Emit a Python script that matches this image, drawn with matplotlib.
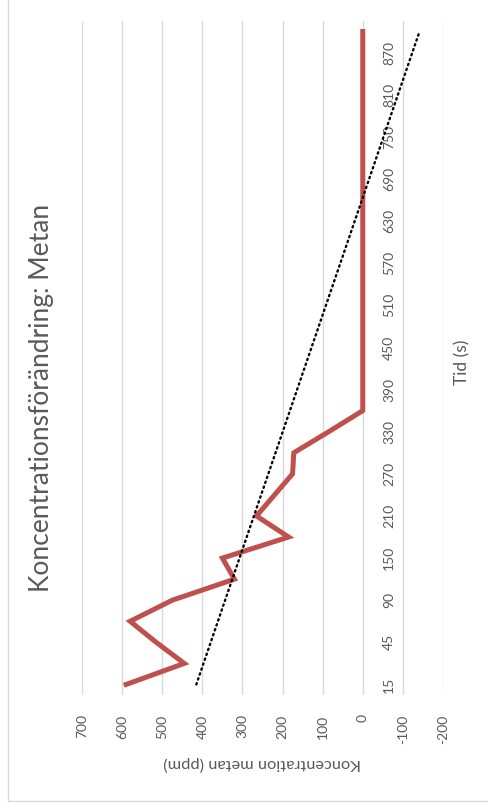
import numpy as np
import matplotlib
matplotlib.use("Agg")
import matplotlib.pyplot as plt
from matplotlib.patches import Rectangle

# Tid (s) - every other category gets a label
tid = [15, 30, 45, 60, 90, 120, 150, 180, 210, 240, 270, 300, 330, 360, 390, 420,
       450, 480, 510, 540, 570, 600, 630, 660, 690, 720, 750, 780, 810, 840, 870, 900]
tid_labels = [15, 45, 90, 150, 210, 270, 330, 390, 450, 510, 570, 630, 690, 750, 810, 870]
metan = [590, 445, 515, 580, 475, 320, 350, 185, 265, 220, 175, 172, 85, 0, 0, 0,
         0, 0, 0, 0, 0, 0, 0, 0, 0, 0, 0, 0, 0, 0, 0, 0]
value_ticks = [700, 600, 500, 400, 300, 200, 100, 0, -100, -200]

plt.rcParams['font.family'] = ['Lato', 'DejaVu Sans']
grey = '#595959'

W, H = 489, 805
fig = plt.figure(figsize=(W / 100, H / 100), dpi=100)

# chart is drawn turned a quarter turn: values run right-to-left, time bottom-to-top
ax = fig.add_axes([82 / W, 1 - 695 / H, (443 - 82) / W, 674 / H])
idx = np.arange(len(tid))

ax.plot(metan, idx, color='#C0504D', lw=3.6, solid_joinstyle='miter', zorder=3)

# linear trend over category index, like Excel
k, m = np.polyfit(idx, metan, 1)
ax.plot(k * idx + m, idx, color='black', lw=1.7, linestyle=(0, (0.6, 1.6)),
        dash_capstyle='round', zorder=4)

ax.set_xlim(700, -200)
ax.set_ylim(-0.5, len(tid) - 0.5)
ax.set_xticks(value_ticks)
ax.set_xticklabels([str(v) for v in value_ticks], rotation=90, color=grey, fontsize=10)
lab_idx = [tid.index(t) for t in tid_labels]
ax.set_yticks(lab_idx)
ax.set_yticklabels([str(t) for t in tid_labels], rotation=90, color=grey, fontsize=10,
                   va='center')
ax.yaxis.tick_right()
ax.tick_params(axis='both', length=0)
ax.tick_params(axis='x', pad=14)
ax.tick_params(axis='y', pad=-43)
ax.grid(axis='x', color='#d9d9d9', lw=1)
ax.set_axisbelow(True)
for s in ax.spines.values():
    s.set_visible(False)

fig.text(42 / W, 1 - 398 / H, 'Koncentrationsförändring: Metan', rotation=90,
         ha='center', va='center', fontsize=19, color=grey)
fig.text(262 / W, 1 - 764 / H, 'Koncentration metan (ppm)', rotation=180,
         ha='center', va='center', fontsize=11.8, color=grey)
fig.text(462 / W, 1 - 362 / H, 'Tid (s)', rotation=90,
         ha='center', va='center', fontsize=12.5, color=grey)

# chart border
fig.patches.append(Rectangle((8 / W, 1 - 801 / H), 1.0, 1.0, transform=fig.transFigure,
                             fill=False, edgecolor='#d9d9d9', lw=1))

fig.savefig('out.png', dpi=100)
